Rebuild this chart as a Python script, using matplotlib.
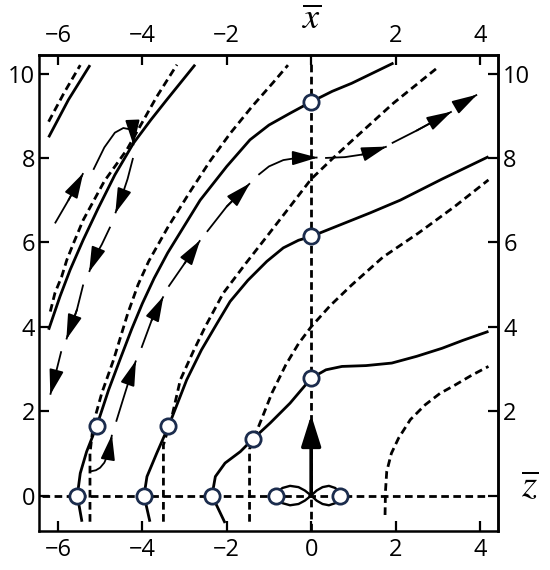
import numpy as np
import matplotlib
matplotlib.use('Agg')
import matplotlib.pyplot as plt

plt.rcParams['font.family'] = ['Open Sans', 'DejaVu Sans']
plt.rcParams['mathtext.fontset'] = 'stix'
plt.rcParams['lines.scale_dashes'] = False

# thick solid / dashed curves (x, y)
tl_solid_x = [-6.22, -5.75, -5.24]
tl_solid_y = [8.49, 9.38, 10.2]
tl_dash_x = [-6.22, -5.85, -5.47]
tl_dash_y = [8.86, 9.55, 10.2]

a_solid_x = [-6.22, -5.95, -5.71, -5.4, -5.05, -4.65, -4.21, -3.8, -3.42, -2.75]
a_solid_y = [3.93, 4.72, 5.35, 6.06, 6.8, 7.6, 8.35, 8.9, 9.38, 10.21]
a_dash_x = [-6.18, -6.07, -5.91, -5.79, -5.63, -5.4, -4.9, -4.37, -3.66, -3.18]
a_dash_y = [4.36, 4.8, 5.19, 5.58, 5.98, 6.53, 7.45, 8.19, 9.45, 10.21]

b_solid_x = [-5.43, -5.54, -5.47, -5.32, -5.08, -4.8, -4.53, -4.25, -4.0, -3.72, -3.4, -3.0,
             -2.63, -2.0, -1.45, -1.0, -0.5, 0.0, 0.5, 0.96, 1.95]
b_solid_y = [-0.62, 0.0, 0.53, 1.04, 1.65, 2.5, 3.22, 3.95, 4.55, 5.15, 5.75, 6.4,
             7.0, 7.8, 8.43, 8.78, 9.06, 9.33, 9.58, 9.77, 10.25]
b_dash_x = [-5.24, -5.24, -5.16, -4.96, -4.68, -4.35, -4.1, -3.85, -3.4, -2.87, -2.4, -1.92,
            -1.4, -0.89, -0.55]
b_dash_y = [-0.62, 1.0, 1.71, 2.43, 3.22, 4.3, 5.0, 5.55, 6.35, 7.2, 7.92, 8.58,
            9.22, 9.8, 10.2]

c_solid_x = [-3.82, -3.96, -3.89, -3.66, -3.38, -2.95, -2.6, -2.23, -1.92, -1.5, -1.05, -0.66,
             -0.3, 0.0, 0.7, 1.4, 2.11, 3.1, 4.2]
c_solid_y = [-0.62, 0.0, 0.45, 1.0, 1.64, 2.74, 3.45, 4.08, 4.6, 5.1, 5.55, 5.87,
             6.05, 6.14, 6.42, 6.7, 7.0, 7.5, 8.03]
c_dash_x = [-3.5, -3.5, -3.3, -3.1, -2.8, -2.51, -2.08, -1.55, -1.05, -0.5, 0.0, 0.5, 1.0,
            1.95, 2.98]
c_dash_y = [-0.62, 1.2, 1.87, 2.74, 3.4, 4.0, 4.8, 5.5, 6.14, 6.85, 7.5, 7.98, 8.44,
            9.3, 10.13]

d_solid_x = [-2.04, -2.35, -2.27, -2.04, -1.68, -1.38, -0.97, -0.5, 0.0, 0.35, 0.73, 1.3,
             1.91, 2.5, 3.1, 3.6, 4.2]
d_solid_y = [-0.65, 0.0, 0.45, 0.77, 1.04, 1.34, 1.72, 2.19, 2.78, 2.98, 3.06, 3.08,
             3.14, 3.3, 3.49, 3.68, 3.89]
d_dash_x = [-1.46, -1.46, -1.3, -1.12, -0.93, -0.6, -0.3, 0.0, 0.45, 0.96, 1.7, 2.54, 3.4, 4.2]
d_dash_y = [-0.62, 1.1, 1.5, 1.95, 2.43, 3.1, 3.6, 4.0, 4.5, 4.99, 5.65, 6.22, 6.85, 7.48]

e_dash_x = [1.75, 1.76, 1.79, 1.9, 2.07, 2.35, 2.7, 3.05, 3.41, 3.8, 4.2]
e_dash_y = [-0.46, 0.1, 0.57, 1.0, 1.36, 1.8, 2.15, 2.42, 2.62, 2.85, 3.06]

# thin trajectory with arrows, one list per visible piece, arrow at last point
m_segments = [
    [(-5.24, 0.57), (-5.1, 0.6), (-5.0, 0.66), (-4.9, 0.78), (-4.84, 0.92), (-4.76, 1.2), (-4.72, 1.44)],
    [(-4.62, 1.75), (-4.45, 2.3), (-4.3, 2.78), (-4.15, 3.2)],
    [(-4.02, 3.5), (-3.78, 4.15), (-3.5, 4.72)],
    [(-3.38, 4.95), (-3.0, 5.5), (-2.63, 6.05)],
    [(-2.47, 6.25), (-2.0, 6.85), (-1.45, 7.4)],
    [(-1.25, 7.6), (-1.0, 7.8), (-0.66, 7.95), (-0.34, 8.0), (0.15, 8.01)],
    [(0.33, 8.0), (0.8, 8.02), (1.2, 8.08), (1.79, 8.27)],
    [(1.91, 8.35), (2.5, 8.65), (3.33, 9.1)],
    [(3.45, 9.22), (3.93, 9.5)],
]
loop_segments = [
    [(-6.07, 6.45), (-5.75, 7.0), (-5.4, 7.64)],
    [(-5.16, 7.72), (-4.9, 8.25), (-4.65, 8.6), (-4.45, 8.71), (-4.3, 8.68), (-4.22, 8.55), (-4.21, 8.3)],
    [(-4.22, 8.0), (-4.35, 7.5), (-4.5, 7.05), (-4.64, 6.69)],
    [(-4.76, 6.37), (-4.96, 5.95), (-5.1, 5.7), (-5.26, 5.3)],
    [(-5.4, 5.0), (-5.55, 4.4), (-5.8, 3.7)],
    [(-5.92, 3.42), (-6.05, 2.9), (-6.18, 2.39)],
]

# figure-eight around origin
lobe_l_x = [0.0, -0.15, -0.3, -0.5, -0.68, -0.8, -0.83, -0.8, -0.68, -0.5, -0.3, -0.15, 0.0]
lobe_l_y = [0.0, 0.12, 0.2, 0.23, 0.18, 0.08, 0.0, -0.08, -0.18, -0.23, -0.2, -0.12, 0.0]
lobe_r_x = [0.0, 0.13, 0.27, 0.42, 0.57, 0.66, 0.69, 0.66, 0.57, 0.42, 0.27, 0.13, 0.0]
lobe_r_y = [0.0, 0.12, 0.2, 0.23, 0.18, 0.08, 0.0, -0.08, -0.18, -0.23, -0.2, -0.12, 0.0]

# open circles
circ_x = [0.0, 0.0, 0.0, -5.08, -3.38, -1.38, -5.54, -3.96, -2.35, -0.83, 0.69]
circ_y = [9.33, 6.14, 2.78, 1.65, 1.64, 1.34, 0.0, 0.0, 0.0, 0.0, 0.0]

xticks = [-6, -4, -2, 0, 2, 4]
yticks = [0, 2, 4, 6, 8, 10]

fig = plt.figure(figsize=(5.5, 5.7), dpi=100)
ax = fig.add_axes([0.0715, 0.0684, 0.8335, 0.8351])
ax.set_xlim(-6.44, 4.42)
ax.set_ylim(-0.84, 10.44)

lw = 2.0
dsh = (5.5, 3.2)
solids = [(tl_solid_x, tl_solid_y), (a_solid_x, a_solid_y), (b_solid_x, b_solid_y),
          (c_solid_x, c_solid_y), (d_solid_x, d_solid_y)]
dashes = [(tl_dash_x, tl_dash_y), (a_dash_x, a_dash_y), (b_dash_x, b_dash_y),
          (c_dash_x, c_dash_y), (d_dash_x, d_dash_y), (e_dash_x, e_dash_y)]
for sx, sy in solids:
    ax.plot(sx, sy, 'k-', lw=lw, solid_joinstyle='round', solid_capstyle='butt', zorder=3)
for sx, sy in dashes:
    ax.plot(sx, sy, 'k', lw=lw, dashes=dsh, zorder=3)

# axes lines through origin
ax.plot([-6.38, 4.2], [0, 0], 'k', lw=lw, dashes=dsh, zorder=2)
ax.plot([0, 0], [-0.84, 10.25], 'k', lw=lw, dashes=dsh, zorder=2)

# thin arrowed trajectories
for seg in m_segments + loop_segments:
    xs = [p[0] for p in seg]
    ys = [p[1] for p in seg]
    ax.plot(xs, ys, 'k-', lw=1.3, solid_capstyle='butt', solid_joinstyle='round', zorder=3)
    ax.annotate('', xy=seg[-1], xytext=seg[-2],
                arrowprops=dict(arrowstyle='-|>,head_length=1.4,head_width=0.4',
                                color='k', lw=1.3, shrinkA=0, shrinkB=0, mutation_scale=11),
                zorder=4)

ax.plot(lobe_l_x, lobe_l_y, 'k-', lw=1.7, zorder=3)
ax.plot(lobe_r_x, lobe_r_y, 'k-', lw=1.7, zorder=3)

# thick vertical arrow
ax.annotate('', xy=(0, 1.91), xytext=(0, 0),
            arrowprops=dict(arrowstyle='-|>,head_length=0.95,head_width=0.3',
                            color='k', lw=2.6, shrinkA=0, shrinkB=0, mutation_scale=20),
            zorder=4)

ax.plot(circ_x, circ_y, 'o', ms=11, mfc='white', mec='#1b2c4d', mew=2.0, zorder=5)

for s in ax.spines.values():
    s.set_linewidth(1.8)

ax.set_xticks(xticks)
ax.set_yticks(yticks)
ax.set_xticklabels(['\u2212' + str(-t) if t < 0 else str(t) for t in xticks])
ax.tick_params(direction='in', length=7, width=1.6, labelsize=17)
ax.tick_params(axis='x', pad=5)
ax.tick_params(axis='y', pad=3)

top = ax.secondary_xaxis('top')
top.set_xticks(xticks)
top.set_xticklabels(['\u22126', '\u22124', '\u22122', '', '2', '4'])
top.tick_params(direction='in', length=7, width=1.6, labelsize=17, pad=5)
top.spines['top'].set_linewidth(1.8)

right = ax.secondary_yaxis('right')
right.set_yticks(yticks)
right.set_yticklabels(['', '2', '4', '6', '8', '10'])
right.tick_params(direction='in', length=7, width=1.6, labelsize=17, pad=4)
right.spines['right'].set_linewidth(1.8)

ax.text(0, 1.074, r'$\overline{x}$', transform=ax.get_xaxis_transform(),
        ha='center', va='center', fontsize=26)
ax.text(1.0705, 0.2, r'$\overline{z}$', transform=ax.get_yaxis_transform(),
        ha='center', va='center', fontsize=28)

fig.savefig('out.png', dpi=100)
